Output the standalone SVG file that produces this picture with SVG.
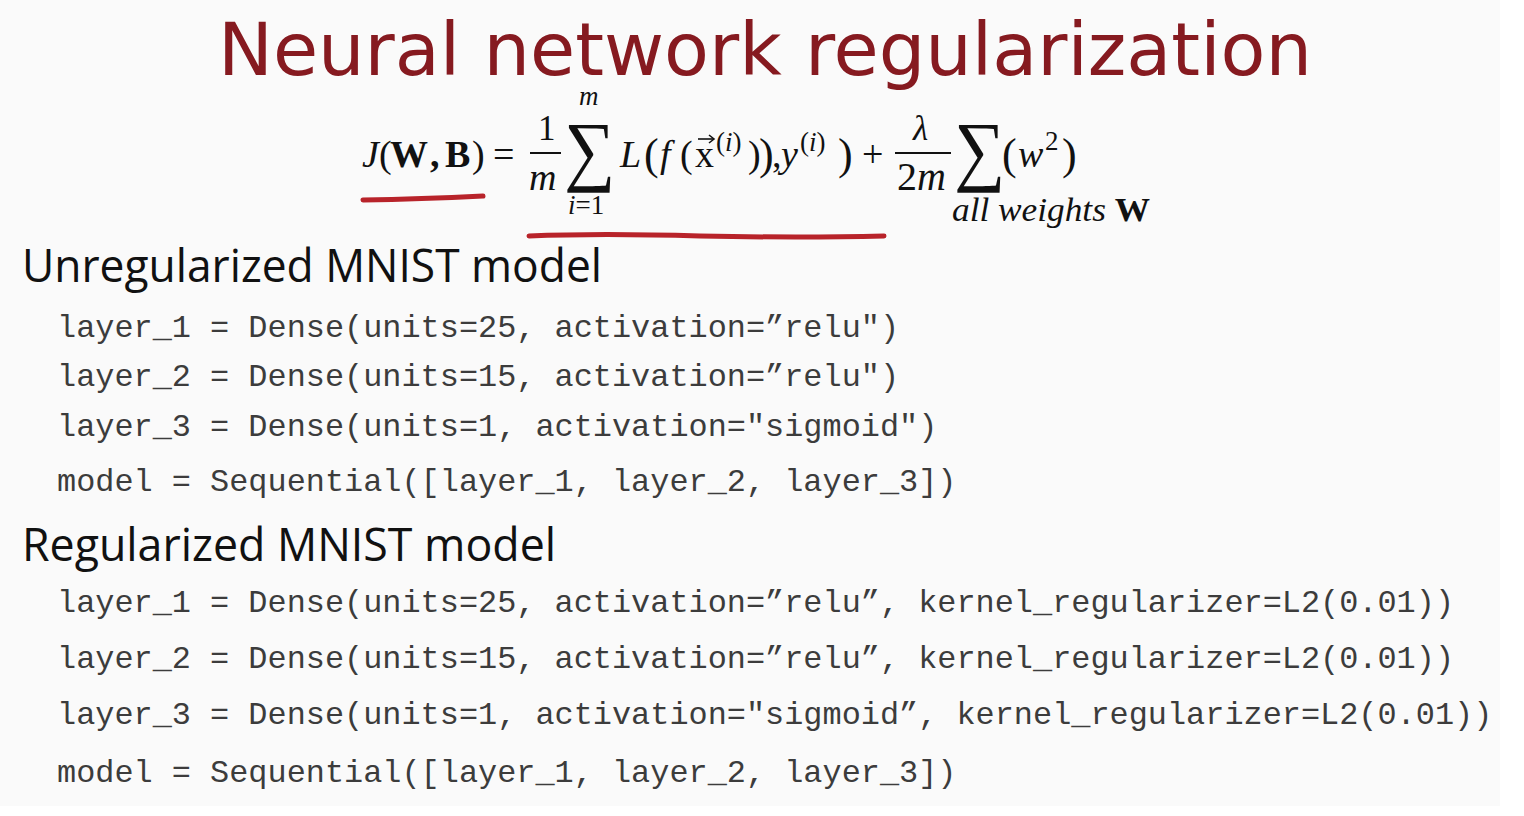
<svg xmlns="http://www.w3.org/2000/svg" width="1524" height="816" viewBox="0 0 1524 816">
<style>
.title{font-family:"DejaVu Sans",sans-serif;font-size:73px;fill:#861a20}
.h{font-family:"Open Sans","Liberation Sans",sans-serif;font-size:46px;fill:#111}
.code{font-family:"Liberation Mono","Courier New",monospace;font-size:31.9px;fill:#3c3c3c;white-space:pre}
.m{font-family:"Liberation Serif","DejaVu Serif",serif;fill:#111;font-size:38px}
.i{font-style:italic}
.b{font-weight:bold}
.s{font-size:27px}
.fr{font-size:35px}
.bp{font-size:44px}
.big{font-size:78px}
.ul{fill:none;stroke:#b8232a;stroke-width:5;stroke-linecap:round}
</style>
<rect x="0" y="0" width="1524" height="816" fill="#ffffff"/>
<rect x="0" y="0" width="1500" height="806" fill="#fafafa"/>
<g id="title"><text class="title" x="218" y="75" textLength="1094" lengthAdjust="spacingAndGlyphs">Neural network regularization</text></g>
<g id="formula">
<text class="m i" x="362" y="167">J</text>
<text class="m" x="379" y="167">(</text>
<text class="m b" x="390" y="167">W</text>
<text class="m b" x="430" y="167">,</text>
<text class="m b" x="445" y="167">B</text>
<text class="m" x="472" y="167">)</text>
<text class="m" x="493" y="167">=</text>
<text class="m fr" x="538" y="140">1</text>
<line x1="530" y1="153" x2="561" y2="153" stroke="#111" stroke-width="2"/>
<text class="m i" x="529" y="190">m</text>
<text class="m big" x="564" y="176" transform="translate(564 176) scale(0.92 1) translate(-564 -176)">∑</text>
<text class="m i s" x="579" y="105">m</text>
<text class="m s" x="568" y="214"><tspan class="i">i</tspan>=1</text>
<text class="m i" x="620" y="167">L</text>
<text class="m bp" x="644" y="169">(</text>
<text class="m i" x="660" y="167">f</text>
<text class="m" x="680" y="167">(</text>
<text class="m" x="695" y="167">x</text>
<line x1="698" y1="139" x2="713" y2="139" stroke="#111" stroke-width="1.6"/>
<path d="M709 135 L714 139 L709 143" fill="none" stroke="#111" stroke-width="1.6"/>
<text class="m s" x="716" y="151">(<tspan class="i">i</tspan>)</text>
<text class="m" x="748" y="167">)</text>
<text class="m bp" x="759" y="169">)</text>
<text class="m" x="772" y="167">,</text>
<text class="m i" x="781" y="167">y</text>
<text class="m s" x="800" y="151">(<tspan class="i">i</tspan>)</text>
<text class="m bp" x="838" y="169">)</text>
<text class="m" x="862" y="167">+</text>
<text class="m i fr" x="913" y="140">λ</text>
<line x1="895" y1="153" x2="951" y2="153" stroke="#111" stroke-width="2"/>
<text class="m" x="897" y="190" style="font-size:40px">2<tspan class="i">m</tspan></text>
<text class="m big" x="954" y="176" transform="translate(954 176) scale(0.92 1) translate(-954 -176)">∑</text>
<text class="m bp" x="1002" y="169">(</text>
<text class="m i" x="1018" y="167">w</text>
<text class="m s" x="1045" y="150">2</text>
<text class="m bp" x="1062" y="169">)</text>
<text class="m i" x="952" y="221" style="font-size:33px" textLength="198" lengthAdjust="spacingAndGlyphs">all weights <tspan class="b" style="font-style:normal">W</tspan></text>
</g>
<g id="connectors">
<path class="ul" d="M363 200 Q420 199 483 196"/>
<path class="ul" d="M529 236 Q600 233 700 236 Q800 238 884 236"/>
</g>
<g id="unregularized">
<text class="h" x="22" y="282" textLength="580" lengthAdjust="spacingAndGlyphs">Unregularized MNIST model</text>
<text class="code" x="57" y="337">layer_1 = Dense(units=25, activation=”relu")</text>
<text class="code" x="57" y="386">layer_2 = Dense(units=15, activation=”relu")</text>
<text class="code" x="57" y="436">layer_3 = Dense(units=1, activation="sigmoid")</text>
<text class="code" x="57" y="491">model = Sequential([layer_1, layer_2, layer_3])</text>
</g>
<g id="regularized">
<text class="h" x="22" y="561" textLength="534" lengthAdjust="spacingAndGlyphs">Regularized MNIST model</text>
<text class="code" x="57" y="612">layer_1 = Dense(units=25, activation=”relu”, kernel_regularizer=L2(0.01))</text>
<text class="code" x="57" y="668">layer_2 = Dense(units=15, activation=”relu”, kernel_regularizer=L2(0.01))</text>
<text class="code" x="57" y="724">layer_3 = Dense(units=1, activation="sigmoid”, kernel_regularizer=L2(0.01))</text>
<text class="code" x="57" y="782">model = Sequential([layer_1, layer_2, layer_3])</text>
</g>
</svg>
